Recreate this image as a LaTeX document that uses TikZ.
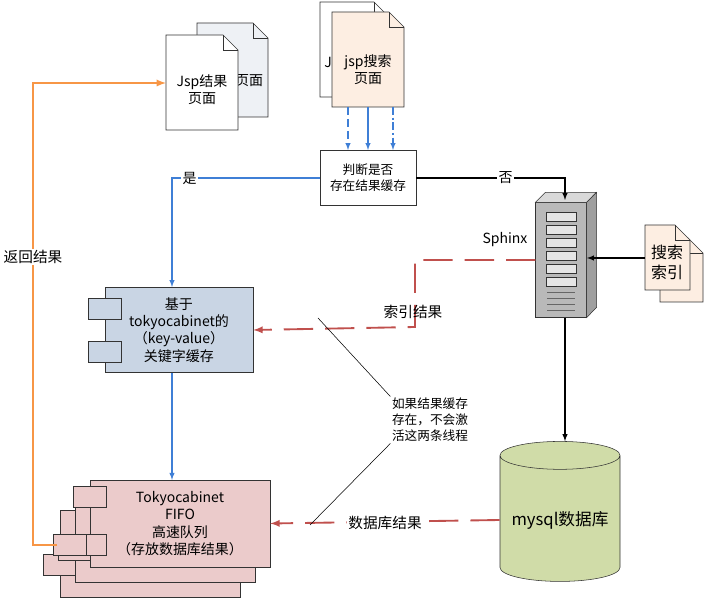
\documentclass[tikz,border=0pt]{standalone}
\usepackage{fontspec}
\setmainfont{Noto Sans CJK SC}
\usetikzlibrary{shapes.geometric}
\definecolor{docpink}{HTML}{FDEEE2}
\definecolor{docgray}{HTML}{EEF1F5}
\definecolor{cacheblue}{HTML}{C9D5E4}
\definecolor{fifored}{HTML}{EBCBCB}
\definecolor{dbgreen}{HTML}{D0DCA8}
\definecolor{linkblue}{HTML}{3F7FD6}
\definecolor{resred}{HTML}{C0504D}
\definecolor{backorange}{HTML}{F79646}
\tikzset{
  txt/.style={font=\fontsize{10.5}{13}\selectfont, align=center, inner sep=1pt},
  box/.style={draw=black!80, txt},
  tab/.style={draw=black!80, fill=#1, minimum width=25pt, minimum height=16pt},
  blue link/.style={draw=linkblue, thick, -latex},
  red link/.style={draw=resred, line width=1.4pt, dash pattern=on 22pt off 9pt, -latex},
  dashA/.style={dash pattern=on 6pt off 3pt},
  dashB/.style={solid},
  dashC/.style={dash pattern=on 6pt off 2pt on 1.5pt off 2pt},
}
\newcommand{\docpage}[3]{% corner1, corner2, fill
  \path (#1) coordinate (dA) (#2) coordinate (dB);
  \path (dA -| dB) ++(-15,0) coordinate (dF);
  \draw[black!80, fill=#3] (dA) -- (dF) -- ++(15,15) -- (dB) -- (dA |- dB) -- cycle;
  \draw[black!80] (dF) -- ++(0,15) -- ++(15,0);
}
\begin{document}
\begin{tikzpicture}[x=0.75pt, y=-0.75pt]
\useasboundingbox (0,0) rectangle (708,598);

% result pages
\docpage{197,23}{268,117}{docgray}
\node[txt] at (249,81) {页面};
\docpage{166,35}{238,130}{white}
\node[txt] (result) at (202,90) {Jsp结果\\页面};
\coordinate (resultW) at (166,83);

% search pages
\docpage{320,2}{389,97}{white}
\node[txt] at (328,62) {J};
\docpage{332,12}{404,107}{docpink}
\node[txt] (search) at (368,70) {jsp搜索\\页面};

% decision
\node[box, font=\fontsize{9.5}{12}\selectfont, minimum width=72pt, minimum height=41pt] (judge) at (368,178) {判断是否\\存在结果缓存};
\foreach \x/\pat in {348/dashA, 368/dashB, 393/dashC}
  \draw[blue link, \pat] (\x,107) -- (\x,150);

% keyword cache
\node[box, fill=cacheblue, minimum width=111pt, minimum height=64pt] (cache) at (179,330)
  {基于\\tokyocabinet的\\（key-value）\\关键字缓存};
\node[tab=cacheblue] at (105,309) {};
\node[tab=cacheblue] at (105,352) {};

% fifo queue
\foreach \d in {30,15} {
  \draw[black!80, fill=fifored] (90-\d,480+\d) rectangle (270-\d,567+\d);
  \node[tab=fifored] at (90-\d,535+\d) {};
}
\node[box, fill=fifored, minimum width=135pt, minimum height=65pt] (fifo) at (180,523.5)
  {Tokyocabinet\\FIFO\\高速队列\\（存放数据库结果）};
\node[tab=fifored] at (90,497) {};
\node[tab=fifored] (fifotab) at (90,545) {};
\node[tab=fifored] at (70,545) {};

% sphinx server
\node[txt] (sphinxlbl) at (505,240) {Sphinx};
\node[draw=black!80, fill=gray!55, minimum width=38pt, minimum height=86pt, inner sep=0pt] (sphinx) at (561,260) {};
\draw[black!80, fill=gray!30] (sphinx.north west) -- ++(10,-10) -- ++(51,0) -- (sphinx.north east) -- cycle;
\draw[black!80, fill=gray!75] (sphinx.north east) -- ++(10,-10) -- ++(0,115) -- (sphinx.south east) -- cycle;
\foreach \y in {212,225,238,251,264,277}
  \draw[black!80, fill=gray!20] (546,\y) rectangle (576,\y+9);
\foreach \y in {292,298,...,310}
  \draw[black!60] (547,\y) -- (575,\y);

% search index
\docpage{660,238}{703,302}{docpink}
\docpage{645,225}{690,290}{docpink}
\node[txt, font=\fontsize{12}{15}\selectfont] (index) at (667,262) {搜索\\索引};
\coordinate (indexW) at (645,258);

% database
\node[cylinder, shape border rotate=90, draw=black!80, fill=dbgreen, aspect=0.28,
  minimum width=90pt, minimum height=105pt, txt, font=\fontsize{12.5}{15}\selectfont] (db) at (560,520) {mysql数据库};

% links
\draw[blue link] (judge.west) -- (172,178) node[pos=0.88, fill=white, txt] {是} -- (cache.north -| 172,0);
\draw[blue link] (cache.south -| 172,0) -- (fifo.north -| 172,0);
\draw[-latex, thick] (judge.east) -- (565,178) node[pos=0.6, fill=white, txt] {否} -- (565,200);
\draw[-latex, thick] (indexW) -- (587,258);
\draw[-latex, thick] (565,318) -- (db.north -| 565,0);
\draw[red link] (sphinx.west) -- (415,260) -- (415,327) -- (cache.east);
\node[txt, font=\fontsize{11}{13}\selectfont] at (413,312) {索引结果};
\draw[red link] (db.west) -- (fifo.east);
\node[txt, fill=white, font=\fontsize{11}{13}\selectfont] at (385,523) {数据库结果};
\draw[backorange, line width=1.4pt, -latex] (57,545) -- (33,545) -- (33,83) -- (resultW);
\node[txt, fill=white, font=\fontsize{11}{13}\selectfont] at (33,257) {返回结果};

% note
\node[txt, font=\fontsize{9.5}{12}\selectfont, align=left] (note) at (430,420) {如果结果缓存\\存在，不会激\\活这两条线程};
\draw (318,318) -- (note.north west);
\draw (310,525) -- (note.south west);
\end{tikzpicture}
\end{document}
